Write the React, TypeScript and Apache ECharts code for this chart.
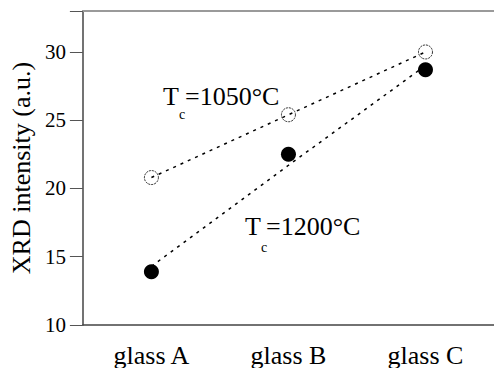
import React, { useEffect, useRef } from "react";
import * as echarts from "echarts";

const categories = ["glass A", "glass B", "glass C"];
const tc1050 = [20.8, 25.4, 30.0];
const tc1200 = [13.9, 22.5, 28.7];
const tc1200Fit = [14.3, 21.7, 29.0];
const yTicks = [10, 15, 20, 25, 30];

const FONT = "Liberation Serif";

const txt = (text: string, left: number, top: number, size: number) => ({
  type: "text",
  left,
  top,
  style: { text, fontFamily: FONT, fontSize: size, fill: "#000" },
});

export default function App() {
  const ref = useRef<HTMLDivElement>(null);
  useEffect(() => {
    if (!ref.current) return;
    const chart = echarts.init(ref.current, undefined, { renderer: "svg" });
    chart.setOption({
      animation: false,
      grid: { left: 81, right: -1, top: 11, bottom: 43 },
      xAxis: [
        {
          type: "category",
          data: categories,
          boundaryGap: true,
          axisLine: { lineStyle: { color: "#444", width: 1.5 } },
          axisTick: { alignWithLabel: true, length: 13, lineStyle: { color: "#888", width: 1 } },
          axisLabel: { color: "#000", fontFamily: FONT, fontSize: 26, margin: 17 },
        },
        {
          type: "category",
          data: categories,
          position: "top",
          axisLine: { lineStyle: { color: "#9a9a9a", width: 2 } },
          axisTick: { show: false },
          axisLabel: { show: false },
        },
      ],
      yAxis: {
        type: "value",
        min: 10,
        max: 33,
        interval: 5,
        splitLine: { show: false },
        axisLine: { show: true, lineStyle: { color: "#444", width: 1.5 } },
        axisTick: { show: true, length: 13, lineStyle: { color: "#555", width: 1 } },
        axisLabel: {
          color: "#000",
          fontFamily: FONT,
          fontSize: 21,
          margin: 17,
          formatter: (v: number) => (yTicks.includes(v) ? String(v) : ""),
        },
        name: "XRD intensity (a.u.)",
        nameLocation: "middle",
        nameGap: 47,
        nameTextStyle: { color: "#000", fontFamily: FONT, fontSize: 26 },
      },
      series: [
        {
          type: "line",
          data: tc1200Fit,
          symbol: "none",
          lineStyle: { color: "#000", width: 1.5, type: [3, 5] },
          z: 1,
        },
        {
          type: "line",
          data: tc1050,
          symbol: "circle",
          symbolSize: 14,
          itemStyle: { color: "rgba(0,0,0,0)", borderColor: "#222", borderWidth: 1, borderType: [2, 1] },
          lineStyle: { color: "#000", width: 1.5, type: [3, 5] },
          z: 2,
        },
        {
          type: "scatter",
          data: tc1200,
          symbol: "circle",
          symbolSize: 15,
          itemStyle: { color: "#000", opacity: 1 },
          z: 3,
        },
      ],
      graphic: [
        txt("T", 163, 83, 26),
        txt("c", 179, 107, 14),
        txt("=1050°C", 185, 83, 26),
        txt("T", 245, 213, 26),
        txt("c", 261, 240, 14),
        txt("=1200°C", 266, 213, 26),
      ],
    });
    return () => chart.dispose();
  }, []);
  return <div ref={ref} style={{ width: 494, height: 368, position: "absolute", left: 0, top: 0 }} />;
}
